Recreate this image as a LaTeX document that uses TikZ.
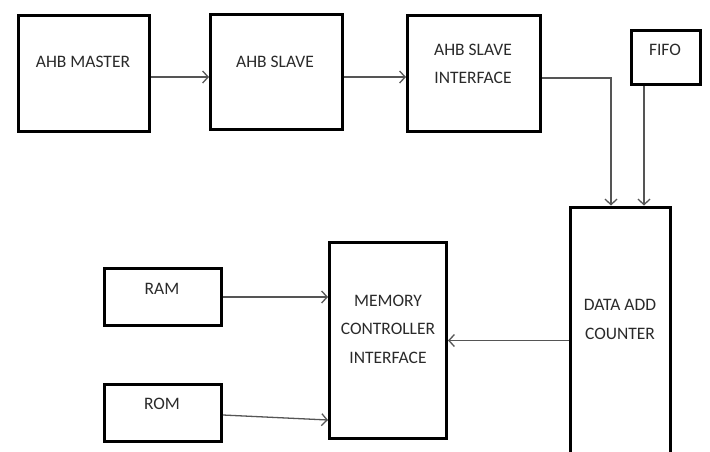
\documentclass[tikz,border=0pt]{standalone}
\usepackage{fontspec}
\setmainfont{Carlito}
\usetikzlibrary{arrows.meta}
\definecolor{txtgray}{HTML}{2A2A2A}
\definecolor{arrgray}{HTML}{555555}
\tikzset{
  blk/.style={draw=black, line width=3pt, minimum width=#1, inner sep=0pt},
  lbl/.style={text=txtgray, align=center, font=\fontsize{17.5}{28.5}\selectfont},
  arr/.style={draw=arrgray, line width=1.3pt, -{Straight Barb[length=5.5pt,width=12pt]}}
}
\begin{document}
\begin{tikzpicture}[x=1pt,y=-1pt]
\useasboundingbox (0,0) rectangle (710,451);
\clip (0,0) rectangle (710,451);

% Top row
\node[blk=131pt, minimum height=116pt] (master) at (84,73.5) {};
\node[lbl] (masterT) at (83,62) {AHB MASTER};

\node[blk=132pt, minimum height=115pt] (slave) at (276.5,72) {};
\node[lbl] (slaveT) at (275,62) {AHB SLAVE};

\node[blk=133pt, minimum height=116pt] (sif) at (474,73.5) {};
\node[lbl] (sifT) at (473,64) {AHB SLAVE\\INTERFACE};

\node[blk=69pt, minimum height=54pt] (fifo) at (666,57.5) {};
\node[lbl] (fifoT) at (665,50) {FIFO};

% Data add counter (runs off the bottom)
\node[blk=100pt, minimum height=260pt] (dac) at (620.5,337) {};
\node[lbl] (dacT) at (620,319.5) {DATA ADD\\COUNTER};

% Memory side
\node[blk=117pt, minimum height=196pt] (mci) at (388,340.5) {};
\node[lbl] (mciT) at (388,329) {MEMORY\\CONTROLLER\\INTERFACE};

\node[blk=117pt, minimum height=57pt] (ram) at (163,297) {};
\node[lbl] (ramT) at (162,289) {RAM};

\node[blk=117pt, minimum height=57pt] (rom) at (163,413) {};
\node[lbl] (romT) at (162,404) {ROM};

% Connections
\draw[arr] ([yshift=-3.5pt]master.east) -- ([yshift=-3.5pt]master.east -| slave.west);
\draw[arr] ([yshift=-5pt]slave.east) -- ([yshift=-5pt]slave.east -| sif.west);
\coordinate (bend) at (611,78);
\draw[arr] (sif.east |- bend) -- (bend) -- (bend |- dac.north);
\coordinate (fifoOut) at (644,86);
\draw[arr] (fifo.south -| fifoOut) -- (fifoOut |- dac.north);
\draw[arr] (dac.west |- mci.east) -- (mci.east);
\draw[arr] (ram.east) -- (ram.east -| mci.west);
\draw[arr] ([yshift=-2pt]rom.east) -- ([yshift=-7pt]rom.east -| mci.west);

\end{tikzpicture}
\end{document}
